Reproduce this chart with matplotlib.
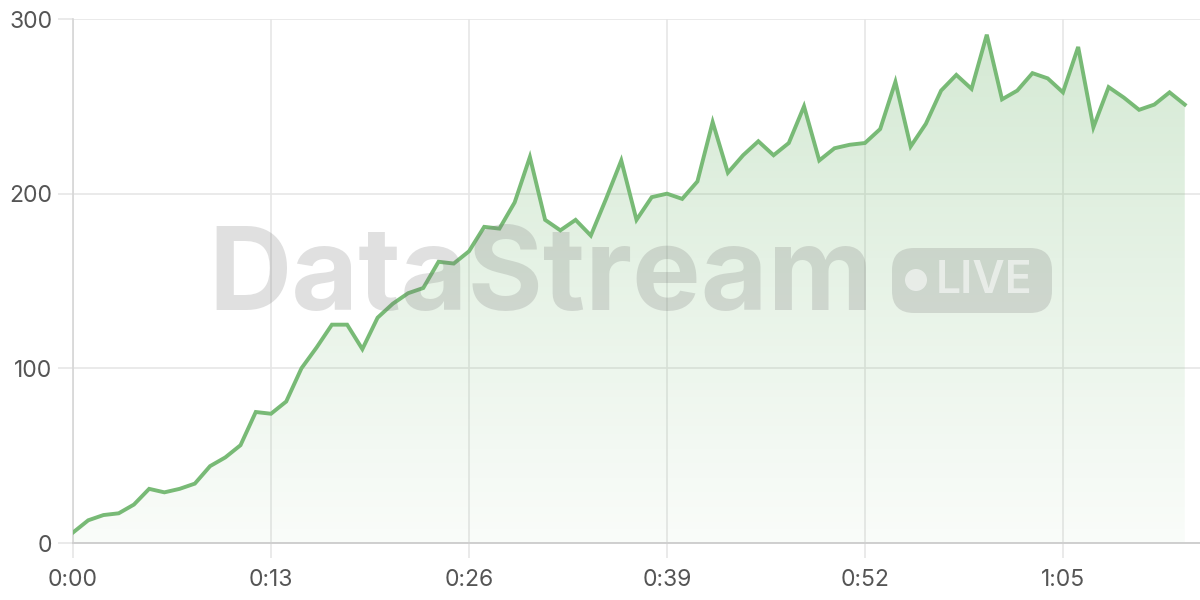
import numpy as np
import matplotlib
matplotlib.use('Agg')
import matplotlib.pyplot as plt
from matplotlib.patches import FancyBboxPatch, Circle
from matplotlib.transforms import IdentityTransform

# one sample per second
seconds = list(range(74))
values = [6, 13, 16, 17, 22, 31, 29, 31, 34, 44,
          49, 56, 75, 74, 81, 100, 112, 125, 125, 111,
          129, 137, 143, 146, 161, 160, 167, 181, 180, 195,
          221, 185, 179, 185, 176, 197, 219, 185, 198, 200,
          197, 207, 241, 212, 222, 230, 222, 229, 250, 219,
          226, 228, 229, 237, 264, 227, 240, 259, 268, 260,
          291, 254, 259, 269, 266, 258, 284, 238, 261, 255,
          248, 251, 258, 251]
x_ticks = [0, 13, 26, 39, 52, 65]
y_ticks = [0, 100, 200, 300]

line_color = '#78ba76'
grid_color = '#e6e6e6'
text_color = '#555555'

plt.rcParams['font.family'] = ['Inter', 'DejaVu Sans']

fig = plt.figure(figsize=(12, 6), dpi=100)
ax = fig.add_axes([73 / 1200, 57 / 600, 1127 / 1200, 524 / 600])
ax.set_xlim(0, 74)
ax.set_ylim(0, 300)

# gradient fill under the line, clipped by the area polygon
poly = ax.fill_between(seconds, values, 0, color='none', lw=0)
grad = np.linspace(0.04, 0.32, 256).reshape(-1, 1)
rgba = np.zeros((256, 1, 4))
rgba[..., 0] = 0.47
rgba[..., 1] = 0.73
rgba[..., 2] = 0.46
rgba[..., 3] = grad
img = ax.imshow(rgba, extent=[0, seconds[-1], 0, 300], origin='lower',
                aspect='auto', zorder=1)
img.set_clip_path(poly.get_paths()[0], transform=ax.transData)

ax.plot(seconds, values, color=line_color, lw=2.8, zorder=3,
        solid_joinstyle='miter')

ax.set_xticks(x_ticks)
ax.set_xticklabels([f'{t // 60}:{t % 60:02d}' for t in x_ticks])
ax.set_yticks(y_ticks)
ax.grid(True, color=grid_color, lw=1.2, zorder=0)
ax.set_axisbelow(True)
for s in ['top', 'right']:
    ax.spines[s].set_visible(False)
ax.spines['left'].set_color('#d6d6d6')
ax.spines['bottom'].set_color('#cfcfcf')
ax.spines['left'].set_linewidth(1.2)
ax.spines['bottom'].set_linewidth(1.4)
ax.tick_params(axis='both', colors=grid_color, width=1.2, length=11,
               labelcolor=text_color, labelsize=16.5)
ax.tick_params(axis='x', pad=8)
ax.tick_params(axis='y', pad=4)

# watermark
wm = (0.45, 0.45, 0.45, 0.22)
fig.text(208 / 1200, 1 - 280 / 600, 'DataStream', fontsize=83,
         fontweight='bold', color=wm, ha='left', va='center', zorder=5)
badge = FancyBboxPatch((892, 600 - 313), 160, 65,
                       boxstyle='round,pad=0,rounding_size=22',
                       transform=IdentityTransform(), fc=wm, ec='none',
                       zorder=5)
fig.patches.append(badge)
dot = Circle((916, 600 - 280), 11, transform=IdentityTransform(),
             fc=(1, 1, 1, 0.55), ec='none', zorder=6)
fig.patches.append(dot)
fig.text(936 / 1200, 1 - 281 / 600, 'LIVE', fontsize=32, fontweight='semibold',
         color=(1, 1, 1, 0.55), ha='left', va='center', zorder=6)

fig.savefig('out.png', dpi=100)
